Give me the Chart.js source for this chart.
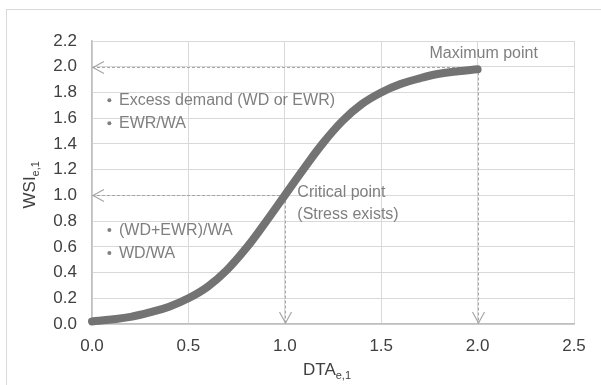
<!DOCTYPE html>
<html>
<head>
<meta charset="utf-8">
<script src="https://cdn.jsdelivr.net/npm/chart.js@4.4.1/dist/chart.umd.min.js"></script>
<style>
html, body { margin: 0; padding: 0; background: #fff; overflow: hidden; }
</style>
</head>
<body>
<canvas id="wsiChart" width="601" height="385"></canvas>
<script>
// values
var dta = [0.0, 0.1, 0.2, 0.3, 0.4, 0.5, 0.6, 0.7, 0.8, 0.9, 1.0,
           1.1, 1.2, 1.3, 1.4, 1.5, 1.6, 1.7, 1.8, 1.9, 2.0];
var wsi = [0.02, 0.035, 0.055, 0.09, 0.135, 0.20, 0.29, 0.42, 0.59, 0.79, 1.00,
           1.21, 1.41, 1.58, 1.71, 1.80, 1.865, 1.91, 1.945, 1.965, 1.98];
var xTicks = [0.0, 0.5, 1.0, 1.5, 2.0, 2.5];
var yTicks = [0.0, 0.2, 0.4, 0.6, 0.8, 1.0, 1.2, 1.4, 1.6, 1.8, 2.0, 2.2];
var criticalPoint = { x: 1.0, y: 1.0 };
var maximumPoint = { x: 2.0, y: 2.0 };
var upperNotes = ['Excess demand (WD or EWR)', 'EWR/WA'];
var lowerNotes = ['(WD+EWR)/WA', 'WD/WA'];

var FONT = '"Liberation Sans", Arial, sans-serif';
var GREY_TEXT = '#7f7f7f';
var DASH = '#a6a6a6';

function arrowHead(ctx, x, y, dx, dy) {
    // open V-shaped head, tip at (x, y), pointing along (dx, dy)
    var len = 11, half = 6;
    var px = -dy, py = dx;
    ctx.save();
    ctx.setLineDash([]);
    ctx.strokeStyle = DASH;
    ctx.lineWidth = 1.2;
    ctx.beginPath();
    ctx.moveTo(x - dx * len + px * half, y - dy * len + py * half);
    ctx.lineTo(x, y);
    ctx.lineTo(x - dx * len - px * half, y - dy * len - py * half);
    ctx.stroke();
    ctx.restore();
}

function dashed(ctx, x1, y1, x2, y2) {
    ctx.save();
    ctx.strokeStyle = DASH;
    ctx.lineWidth = 1;
    ctx.setLineDash([3, 2]);
    ctx.beginPath();
    ctx.moveTo(x1, y1);
    ctx.lineTo(x2, y2);
    ctx.stroke();
    ctx.restore();
}

function subText(ctx, main, sub, x, y, size) {
    // draws main text followed by a subscript, starting at x on baseline y
    ctx.font = size + 'px ' + FONT;
    ctx.fillText(main, x, y);
    var w = ctx.measureText(main).width;
    ctx.font = Math.round(size * 0.65) + 'px ' + FONT;
    ctx.fillText(sub, x + w, y + 4);
}

var guides = {
    id: 'guides',
    beforeDraw: function (chart) {
        var ctx = chart.ctx;
        ctx.save();
        ctx.strokeStyle = '#d9d9d9';
        ctx.lineWidth = 1;
        ctx.strokeRect(6.5, 9.5, 700, 500);
        ctx.restore();
    },
    beforeDatasetsDraw: function (chart) {
        var ctx = chart.ctx;
        var xs = chart.scales.x, ys = chart.scales.y;
        var x0 = xs.getPixelForValue(0), y0 = ys.getPixelForValue(0);
        [maximumPoint, criticalPoint].forEach(function (p) {
            var px = Math.round(xs.getPixelForValue(p.x)) + 0.5;
            var py = Math.round(ys.getPixelForValue(p.y)) + 0.5;
            dashed(ctx, x0, py, px, py);
            dashed(ctx, px, py, px, y0);
            arrowHead(ctx, x0 + 1, py, -1, 0);
            arrowHead(ctx, px, y0 - 1, 0, 1);
        });
    },
    afterDraw: function (chart) {
        var ctx = chart.ctx;
        var xs = chart.scales.x, ys = chart.scales.y;
        var area = chart.chartArea;
        ctx.save();
        ctx.fillStyle = GREY_TEXT;
        ctx.font = '16px ' + FONT;
        ctx.textBaseline = 'middle';
        ctx.textAlign = 'left';

        function note(list, yStart) {
            list.forEach(function (t, i) {
                var y = ys.getPixelForValue(yStart) + i * 23;
                ctx.beginPath();
                ctx.arc(xs.getPixelForValue(0.09), y, 2, 0, Math.PI * 2);
                ctx.fill();
                ctx.fillText(t, xs.getPixelForValue(0.14), y);
            });
        }
        note(upperNotes, 1.74);
        note(lowerNotes, 0.73);

        ctx.fillText('Maximum point', xs.getPixelForValue(1.75), ys.getPixelForValue(2.1));
        ctx.fillText('Critical point', xs.getPixelForValue(1.065), ys.getPixelForValue(1.02));
        ctx.fillText('(Stress exists)', xs.getPixelForValue(1.065), ys.getPixelForValue(0.85));

        // axis titles with subscripts
        ctx.fillStyle = '#404040';
        ctx.textBaseline = 'alphabetic';
        subText(ctx, 'DTA', 'e,1', (area.left + area.right) / 2 - 30, 375, 17);

        ctx.translate(35, (area.top + area.bottom) / 2 + 2);
        ctx.rotate(-Math.PI / 2);
        subText(ctx, 'WSI', 'e,1', -24, 0, 17);
        ctx.restore();
    }
};

new Chart(document.getElementById('wsiChart'), {
    type: 'scatter',
    data: {
        datasets: [{
            data: dta.map(function (x, i) { return { x: x, y: wsi[i] }; }),
            showLine: true,
            borderColor: '#737373',
            backgroundColor: '#737373',
            borderWidth: 8,
            borderCapStyle: 'round',
            borderJoinStyle: 'round',
            tension: 0.4,
            pointRadius: 0,
            clip: false
        }]
    },
    options: {
        responsive: false,
        animation: false,
        events: [],
        layout: { padding: { left: 0, right: 27, top: 41, bottom: 0 } },
        plugins: { legend: { display: false }, tooltip: { enabled: false } },
        scales: {
            x: {
                type: 'linear',
                min: 0, max: 2.5,
                afterBuildTicks: function (s) { s.ticks = xTicks.map(function (v) { return { value: v }; }); },
                afterFit: function (s) { s.height = 61; },
                grid: { color: '#d9d9d9', drawTicks: false },
                border: { color: '#bfbfbf', width: 1.5 },
                ticks: {
                    padding: 12,
                    color: '#404040',
                    font: { family: FONT, size: 17 },
                    callback: function (v) { return v.toFixed(1); }
                }
            },
            y: {
                type: 'linear',
                min: 0, max: 2.2,
                afterBuildTicks: function (s) { s.ticks = yTicks.map(function (v) { return { value: v }; }); },
                afterFit: function (s) { s.width = 92; },
                grid: { color: '#d9d9d9', drawTicks: false },
                border: { color: '#bfbfbf', width: 1.5 },
                ticks: {
                    padding: 15,
                    color: '#404040',
                    font: { family: FONT, size: 17 },
                    callback: function (v) { return v.toFixed(1); }
                }
            }
        }
    },
    plugins: [guides]
});
</script>
</body>
</html>
